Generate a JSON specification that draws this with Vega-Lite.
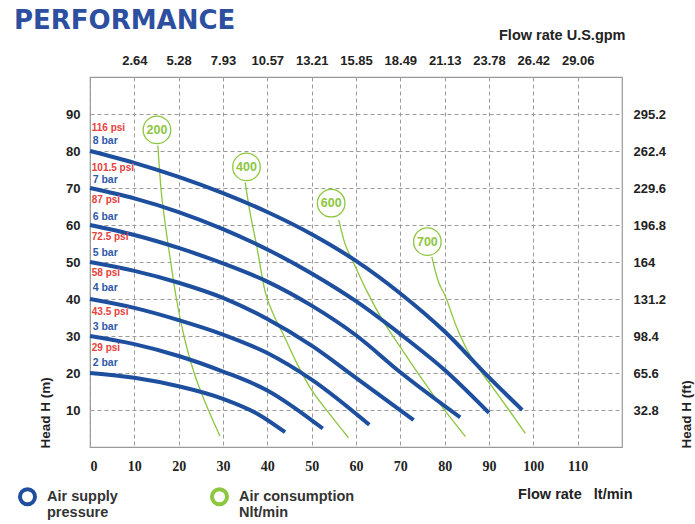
{
  "$schema": "https://vega.github.io/schema/vega-lite/v6.json",
  "width": 532,
  "height": 370,
  "autosize": {"type": "none"},
  "padding": {"left": 90, "top": 77, "right": 73, "bottom": 77},
  "background": "white",
  "title": {"text": "PERFORMANCE", "anchor": "start", "frame": "group", "dx": -76, "dy": 11, "font": "DejaVu Sans", "fontSize": 26, "fontWeight": "bold", "color": "#2d4f9f", "offset": 4},
  "config": {
    "view": {"stroke": "#9a9a9a", "strokeWidth": 1.2},
    "axis": {"labelFont": "Liberation Sans", "titleFont": "Liberation Sans", "labelColor": "#222", "titleColor": "#222", "labelFontWeight": "bold", "titleFontWeight": "bold", "labelFontSize": 13, "titleFontSize": 14.5, "ticks": false, "domain": false},
    "text": {"font": "Liberation Sans"}
  },
  "datasets": {
    "pressure": [
      {"type": "Air supply|pressure", "curve": "8 bar", "x": 0, "y": 80}, {"type": "Air supply|pressure", "curve": "8 bar", "x": 10, "y": 76.8}, {"type": "Air supply|pressure", "curve": "8 bar", "x": 20, "y": 73}, {"type": "Air supply|pressure", "curve": "8 bar", "x": 30, "y": 68.6}, {"type": "Air supply|pressure", "curve": "8 bar", "x": 40, "y": 63.5}, {"type": "Air supply|pressure", "curve": "8 bar", "x": 50, "y": 57.5}, {"type": "Air supply|pressure", "curve": "8 bar", "x": 60, "y": 50.3}, {"type": "Air supply|pressure", "curve": "8 bar", "x": 70, "y": 41.5}, {"type": "Air supply|pressure", "curve": "8 bar", "x": 80, "y": 31.2}, {"type": "Air supply|pressure", "curve": "8 bar", "x": 90, "y": 18.8}, {"type": "Air supply|pressure", "curve": "8 bar", "x": 97.5, "y": 10},
      {"type": "Air supply|pressure", "curve": "7 bar", "x": 0, "y": 70}, {"type": "Air supply|pressure", "curve": "7 bar", "x": 10, "y": 67.2}, {"type": "Air supply|pressure", "curve": "7 bar", "x": 20, "y": 63.5}, {"type": "Air supply|pressure", "curve": "7 bar", "x": 30, "y": 58.9}, {"type": "Air supply|pressure", "curve": "7 bar", "x": 40, "y": 53.4}, {"type": "Air supply|pressure", "curve": "7 bar", "x": 50, "y": 46.9}, {"type": "Air supply|pressure", "curve": "7 bar", "x": 60, "y": 39.4}, {"type": "Air supply|pressure", "curve": "7 bar", "x": 70, "y": 30.5}, {"type": "Air supply|pressure", "curve": "7 bar", "x": 80, "y": 20.8}, {"type": "Air supply|pressure", "curve": "7 bar", "x": 90, "y": 9.2},
      {"type": "Air supply|pressure", "curve": "6 bar", "x": 0, "y": 60}, {"type": "Air supply|pressure", "curve": "6 bar", "x": 10, "y": 57.3}, {"type": "Air supply|pressure", "curve": "6 bar", "x": 20, "y": 53.8}, {"type": "Air supply|pressure", "curve": "6 bar", "x": 30, "y": 49.6}, {"type": "Air supply|pressure", "curve": "6 bar", "x": 40, "y": 44.7}, {"type": "Air supply|pressure", "curve": "6 bar", "x": 50, "y": 38.2}, {"type": "Air supply|pressure", "curve": "6 bar", "x": 60, "y": 30.2}, {"type": "Air supply|pressure", "curve": "6 bar", "x": 70, "y": 20.2}, {"type": "Air supply|pressure", "curve": "6 bar", "x": 83.5, "y": 8},
      {"type": "Air supply|pressure", "curve": "5 bar", "x": 0, "y": 50}, {"type": "Air supply|pressure", "curve": "5 bar", "x": 10, "y": 47.6}, {"type": "Air supply|pressure", "curve": "5 bar", "x": 20, "y": 44.4}, {"type": "Air supply|pressure", "curve": "5 bar", "x": 30, "y": 40.3}, {"type": "Air supply|pressure", "curve": "5 bar", "x": 40, "y": 34.6}, {"type": "Air supply|pressure", "curve": "5 bar", "x": 50, "y": 27.4}, {"type": "Air supply|pressure", "curve": "5 bar", "x": 60, "y": 18.7}, {"type": "Air supply|pressure", "curve": "5 bar", "x": 73, "y": 7.3},
      {"type": "Air supply|pressure", "curve": "4 bar", "x": 0, "y": 40}, {"type": "Air supply|pressure", "curve": "4 bar", "x": 10, "y": 37.6}, {"type": "Air supply|pressure", "curve": "4 bar", "x": 20, "y": 34.3}, {"type": "Air supply|pressure", "curve": "4 bar", "x": 30, "y": 30.4}, {"type": "Air supply|pressure", "curve": "4 bar", "x": 40, "y": 25.4}, {"type": "Air supply|pressure", "curve": "4 bar", "x": 50, "y": 18.2}, {"type": "Air supply|pressure", "curve": "4 bar", "x": 63, "y": 6},
      {"type": "Air supply|pressure", "curve": "3 bar", "x": 0, "y": 30}, {"type": "Air supply|pressure", "curve": "3 bar", "x": 10, "y": 27.8}, {"type": "Air supply|pressure", "curve": "3 bar", "x": 20, "y": 24.6}, {"type": "Air supply|pressure", "curve": "3 bar", "x": 30, "y": 20.4}, {"type": "Air supply|pressure", "curve": "3 bar", "x": 40, "y": 15.3}, {"type": "Air supply|pressure", "curve": "3 bar", "x": 52.5, "y": 5},
      {"type": "Air supply|pressure", "curve": "2 bar", "x": 0, "y": 20}, {"type": "Air supply|pressure", "curve": "2 bar", "x": 10, "y": 18.7}, {"type": "Air supply|pressure", "curve": "2 bar", "x": 20, "y": 16.4}, {"type": "Air supply|pressure", "curve": "2 bar", "x": 30, "y": 13}, {"type": "Air supply|pressure", "curve": "2 bar", "x": 38, "y": 8.8}, {"type": "Air supply|pressure", "curve": "2 bar", "x": 44, "y": 4}
    ],
    "air": [
      {"type": "Air consumption|Nlt/min", "curve": "200", "x": 15.3, "y": 81.5}, {"type": "Air consumption|Nlt/min", "curve": "200", "x": 16, "y": 70}, {"type": "Air consumption|Nlt/min", "curve": "200", "x": 17, "y": 60}, {"type": "Air consumption|Nlt/min", "curve": "200", "x": 18.2, "y": 50}, {"type": "Air consumption|Nlt/min", "curve": "200", "x": 19.5, "y": 40}, {"type": "Air consumption|Nlt/min", "curve": "200", "x": 21.2, "y": 30}, {"type": "Air consumption|Nlt/min", "curve": "200", "x": 23.5, "y": 20}, {"type": "Air consumption|Nlt/min", "curve": "200", "x": 26, "y": 12}, {"type": "Air consumption|Nlt/min", "curve": "200", "x": 29.3, "y": 3},
      {"type": "Air consumption|Nlt/min", "curve": "400", "x": 35, "y": 71.5}, {"type": "Air consumption|Nlt/min", "curve": "400", "x": 36, "y": 64}, {"type": "Air consumption|Nlt/min", "curve": "400", "x": 37.5, "y": 55}, {"type": "Air consumption|Nlt/min", "curve": "400", "x": 39.5, "y": 42}, {"type": "Air consumption|Nlt/min", "curve": "400", "x": 41.5, "y": 35.5}, {"type": "Air consumption|Nlt/min", "curve": "400", "x": 43.5, "y": 30.7}, {"type": "Air consumption|Nlt/min", "curve": "400", "x": 46.5, "y": 23}, {"type": "Air consumption|Nlt/min", "curve": "400", "x": 49.5, "y": 16.3}, {"type": "Air consumption|Nlt/min", "curve": "400", "x": 54, "y": 9}, {"type": "Air consumption|Nlt/min", "curve": "400", "x": 58.3, "y": 2.5},
      {"type": "Air consumption|Nlt/min", "curve": "600", "x": 56.1, "y": 61.4}, {"type": "Air consumption|Nlt/min", "curve": "600", "x": 57.5, "y": 55}, {"type": "Air consumption|Nlt/min", "curve": "600", "x": 59.2, "y": 50.5}, {"type": "Air consumption|Nlt/min", "curve": "600", "x": 62.5, "y": 42}, {"type": "Air consumption|Nlt/min", "curve": "600", "x": 66, "y": 34.3}, {"type": "Air consumption|Nlt/min", "curve": "600", "x": 70, "y": 27}, {"type": "Air consumption|Nlt/min", "curve": "600", "x": 73.5, "y": 20.8}, {"type": "Air consumption|Nlt/min", "curve": "600", "x": 79, "y": 11.5}, {"type": "Air consumption|Nlt/min", "curve": "600", "x": 84.7, "y": 2.8},
      {"type": "Air consumption|Nlt/min", "curve": "700", "x": 77.1, "y": 51.4}, {"type": "Air consumption|Nlt/min", "curve": "700", "x": 78.5, "y": 45}, {"type": "Air consumption|Nlt/min", "curve": "700", "x": 80.2, "y": 40.6}, {"type": "Air consumption|Nlt/min", "curve": "700", "x": 82.5, "y": 33}, {"type": "Air consumption|Nlt/min", "curve": "700", "x": 84.7, "y": 27.1}, {"type": "Air consumption|Nlt/min", "curve": "700", "x": 87.5, "y": 21.5}, {"type": "Air consumption|Nlt/min", "curve": "700", "x": 90.7, "y": 16.3}, {"type": "Air consumption|Nlt/min", "curve": "700", "x": 94.5, "y": 10}, {"type": "Air consumption|Nlt/min", "curve": "700", "x": 98.2, "y": 3.7}
    ],
    "psi": [
      {"label": "116 psi", "x": 0.4, "y": 86.2}, {"label": "101.5 psi", "x": 0.4, "y": 75.3}, {"label": "87 psi", "x": 0.4, "y": 66.8}, {"label": "72.5 psi", "x": 0.4, "y": 56.8}, {"label": "58 psi", "x": 0.4, "y": 46.9}, {"label": "43.5 psi", "x": 0.4, "y": 36.6}, {"label": "29 psi", "x": 0.4, "y": 26.7}
    ],
    "bar": [
      {"label": "8 bar", "x": 0.6, "y": 82.7}, {"label": "7 bar", "x": 0.6, "y": 72.2}, {"label": "6 bar", "x": 0.6, "y": 62.2}, {"label": "5 bar", "x": 0.6, "y": 52.3}, {"label": "4 bar", "x": 0.6, "y": 42.9}, {"label": "3 bar", "x": 0.6, "y": 32.5}, {"label": "2 bar", "x": 0.6, "y": 22.6}
    ],
    "tags": [
      {"label": "200", "x": 15.1, "y": 85.7}, {"label": "400", "x": 35.3, "y": 75.7}, {"label": "600", "x": 54.4, "y": 65.9}, {"label": "700", "x": 76.1, "y": 55.5}
    ]
  },
  "layer": [
    {
      "data": {"name": "air"},
      "mark": {"type": "line", "strokeWidth": 1.3, "interpolate": "monotone"},
      "encoding": {
        "x": {"field": "x", "type": "quantitative", "scale": {"domain": [0, 120], "nice": false},
          "axis": {"orient": "bottom", "values": [0, 10, 20, 30, 40, 50, 60, 70, 80, 90, 100, 110], "grid": true, "gridDash": [4, 3], "gridColor": "#9a9a9a", "gridWidth": 1, "labelPadding": 12, "labelFont": "Liberation Sans Narrow", "labelFontSize": 14, "title": "Flow rate\u00a0\u00a0 lt/min", "titleX": 542, "titleY": 47, "titleAlign": "right", "titleBaseline": "middle"}},
        "y": {"field": "y", "type": "quantitative", "scale": {"domain": [0, 100], "nice": false},
          "axis": {"orient": "left", "values": [10, 20, 30, 40, 50, 60, 70, 80, 90], "grid": true, "gridDash": [4, 3], "gridColor": "#9a9a9a", "gridWidth": 1, "labelPadding": 10, "title": "Head H (m)", "titleFontSize": 13.5, "titleAngle": 270, "titleX": -45, "titleY": 371, "titleAlign": "left", "titleBaseline": "middle"}},
        "detail": {"field": "curve"},
        "color": {"field": "type", "type": "nominal",
          "scale": {"domain": ["Air supply|pressure", "Air consumption|Nlt/min"], "range": ["#1d4f9e", "#8dc63f"]},
          "legend": {"orient": "none", "legendX": -72, "legendY": 410, "direction": "horizontal", "title": null, "symbolType": "circle", "symbolSize": 225, "symbolStrokeWidth": 4, "symbolFillColor": "white", "labelExpr": "split(datum.label, '|')", "labelFont": "Liberation Sans", "labelFontSize": 14.5, "labelFontWeight": "bold", "labelColor": "#333", "labelOffset": 10, "labelLimit": 200, "columnPadding": 86}}
      }
    },
    {
      "data": {"name": "pressure"},
      "mark": {"type": "line", "strokeWidth": 4, "interpolate": "monotone"},
      "encoding": {
        "x": {"field": "x", "type": "quantitative", "axis": null},
        "y": {"field": "y", "type": "quantitative", "axis": null},
        "detail": {"field": "curve"},
        "color": {"field": "type", "type": "nominal"}
      }
    },
    {
      "data": {"name": "psi"},
      "mark": {"type": "text", "align": "left", "baseline": "middle", "fontSize": 10, "fontWeight": "bold", "color": "#e8413c"},
      "encoding": {
        "x": {"field": "x", "type": "quantitative",
          "axis": {"orient": "top", "values": [10, 20, 30, 40, 50, 60, 70, 80, 90, 100, 110], "labelExpr": "format(datum.value * 0.26417, '.2f')", "grid": false, "labelPadding": 10, "title": "Flow rate U.S.gpm", "titleX": 535, "titleY": -42, "titleAlign": "right", "titleBaseline": "middle"}},
        "y": {"field": "y", "type": "quantitative",
          "axis": {"orient": "right", "values": [10, 20, 30, 40, 50, 60, 70, 80, 90], "labelExpr": "format(datum.value * 3.28, '.1~f')", "grid": false, "labelPadding": 11, "title": "Head H (ft)", "titleFontSize": 13.5, "titleAngle": 270, "titleX": 64, "titleY": 371, "titleAlign": "left", "titleBaseline": "middle"}},
        "text": {"field": "label"}
      }
    },
    {
      "data": {"name": "bar"},
      "mark": {"type": "text", "align": "left", "baseline": "middle", "fontSize": 10.5, "fontWeight": "bold", "color": "#2e59a6"},
      "encoding": {
        "x": {"field": "x", "type": "quantitative", "axis": null},
        "y": {"field": "y", "type": "quantitative", "axis": null},
        "text": {"field": "label"}
      }
    },
    {
      "data": {"name": "tags"},
      "mark": {"type": "point", "shape": "circle", "size": 760, "filled": true, "fill": "white", "stroke": "#8dc63f", "strokeWidth": 1.3, "opacity": 1},
      "encoding": {
        "x": {"field": "x", "type": "quantitative", "axis": null},
        "y": {"field": "y", "type": "quantitative", "axis": null}
      }
    },
    {
      "data": {"name": "tags"},
      "mark": {"type": "text", "align": "center", "baseline": "middle", "fontSize": 12.5, "fontWeight": "bold", "color": "#8dc63f"},
      "encoding": {
        "x": {"field": "x", "type": "quantitative", "axis": null},
        "y": {"field": "y", "type": "quantitative", "axis": null},
        "text": {"field": "label"}
      }
    }
  ],
  "resolve": {"axis": {"x": "independent", "y": "independent"}}
}
